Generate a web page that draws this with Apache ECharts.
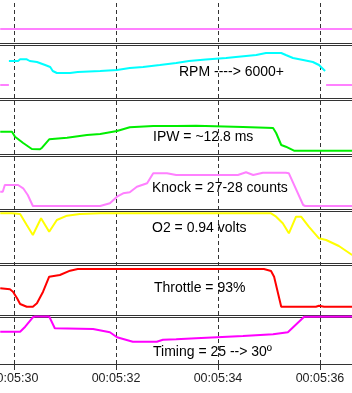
<!DOCTYPE html>
<html>
<head>
<meta charset="utf-8">
<script src="https://cdn.jsdelivr.net/npm/echarts@6/dist/echarts.min.js"></script>
<style>
  html, body { margin: 0; padding: 0; background: #fff; }
  #chart { width: 352px; height: 393px; }
</style>
</head>
<body>
<div id="chart"></div>
<script>
// time is seconds after 00:05:00, values are trace level inside each strip
const timeMin = 29.7255;
const timeMax = 36.6275;
const gridTimes = [30, 32, 34, 36];

const topLine = [[29.73, 14], [36.63, 14]];

const rpmData = [
  [29.90, 37], [30.08, 37], [30.12, 38.7], [30.25, 38.7], [30.31, 37], [30.45, 36],
  [30.61, 33], [30.71, 31], [30.76, 27], [30.84, 25], [31.10, 25], [31.25, 26],
  [31.69, 27], [32.02, 28], [32.27, 30], [32.53, 31], [32.86, 33], [33.18, 35],
  [33.43, 37], [33.76, 38.5], [34.16, 40], [34.35, 41], [34.75, 43], [34.94, 45],
  [35.24, 45], [35.33, 43], [35.47, 40], [35.67, 38], [35.86, 36], [35.98, 33], [36.10, 27]
];
const rpmOver = [[29.73, 13], [29.90, 13], [33.00, '-'], [36.12, 13], [36.63, 13]];

const ipwData = [
  [29.73, 22.3], [29.96, 22.3], [30.02, 17.3], [30.18, 11], [30.35, 5], [30.37, 4.7],
  [30.51, 4.7], [30.55, 6.3], [30.69, 14.7], [31.04, 16.3], [31.43, 19], [31.69, 20],
  [32.02, 23], [32.27, 26.7], [32.73, 28], [33.18, 28], [33.57, 28.3], [34.49, 27],
  [34.94, 26.3], [35.08, 26], [35.14, 21], [35.24, 9], [35.33, 7.3], [35.49, 3.3], [36.63, 3.3]
];

const knockData = [
  [29.73, 17.3], [29.78, 17.3], [29.82, 24], [30.08, 24], [30.18, 20.7], [30.27, 14],
  [30.37, 3], [31.69, 3], [31.88, 5.7], [32.02, 12.3], [32.14, 15.7], [32.27, 16.7],
  [32.41, 22.3], [32.61, 25.7], [32.73, 35.7], [33.00, 35.7], [33.18, 34], [34.39, 34],
  [34.55, 36.7], [34.69, 34], [34.88, 36.3], [35.33, 36.3], [35.39, 35.7], [35.67, 4],
  [35.71, 3], [36.63, 3]
];

const o2Data = [
  [29.73, 49.7], [29.96, 49.7], [30.12, 49], [30.25, 38], [30.37, 28], [30.53, 44.7],
  [30.69, 31.3], [30.84, 43], [31.04, 47.3], [31.29, 49], [31.69, 49.7], [35.04, 49.7],
  [35.14, 46.3], [35.27, 39.7], [35.39, 29.7], [35.53, 46.3], [35.63, 46.3], [35.78, 36.3],
  [35.98, 24.7], [36.12, 23], [36.37, 17], [36.63, 8]
];

const throttleData = [
  [29.73, 26.7], [29.92, 25.7], [29.98, 23.3], [30.06, 16.7], [30.12, 11], [30.25, 8.3],
  [30.37, 8.3], [30.45, 11.7], [30.57, 23.3], [30.69, 38.3], [30.90, 40], [31.10, 44.3],
  [31.25, 46], [34.90, 46], [35.04, 44], [35.10, 38.3], [35.24, 8.3], [35.92, 8.3],
  [35.98, 9.3], [36.08, 8.3], [36.63, 8.3]
];

const timingData = [
  [29.73, 32.3], [30.12, 32.3], [30.22, 37.3], [30.37, 46.7], [30.41, 47.5], [30.69, 47.5],
  [30.80, 35.7], [31.55, 35], [31.88, 31.7], [32.02, 26.7], [32.33, 22.3], [32.80, 22.3],
  [32.92, 24.3], [33.18, 24.7], [33.57, 25.7], [34.49, 28], [35.08, 29.7], [35.37, 31.7],
  [35.69, 47.3], [36.63, 47.5]
];

const stripLabels = [
  'RPM ----> 6000+',
  'IPW = ~12.8 ms',
  'Knock = 27-28 counts',
  'O2 = 0.94 volts',
  'Throttle = 93%',
  'Timing = 25 --> 30º'
];

// strip layout (pixel rows of the separator lines)
const strips = [
  { top: 0, bottom: 43 },
  { top: 45, bottom: 98 },
  { top: 100, bottom: 154 },
  { top: 156, bottom: 209 },
  { top: 211, bottom: 263 },
  { top: 265, bottom: 315 },
  { top: 317, bottom: 364 }
];
const labelPos = [[179, 72], [153, 137], [152, 188], [152, 228], [154, 288], [153, 352]];

const traces = [
  { strip: 0, data: topLine, color: '#ff80ff' },
  { strip: 1, data: rpmOver, color: '#ff80ff' },
  { strip: 1, data: rpmData, color: '#00ffff' },
  { strip: 2, data: ipwData, color: '#00ee00' },
  { strip: 3, data: knockData, color: '#ff80ff' },
  { strip: 4, data: o2Data, color: '#ffff00' },
  { strip: 5, data: throttleData, color: '#ff0000' },
  { strip: 6, data: timingData, color: '#ff00ff' }
];

const chart = echarts.init(document.getElementById('chart'));

const grids = [];
const xAxes = [];
const yAxes = [];
strips.forEach((s, i) => {
  grids.push({ left: 0, right: 0, top: s.top, height: s.bottom - s.top, outerBoundsMode: 'none' });
  xAxes.push({ gridIndex: i, type: 'value', min: timeMin, max: timeMax, show: false });
  yAxes.push({ gridIndex: i, type: 'value', min: 0, max: s.bottom - s.top, show: false });
});

// full height grid carrying the time axis and the dashed time lines
const overlay = strips.length;
grids.push({ left: 0, right: 0, top: 0, height: 364, outerBoundsMode: 'none', containLabel: false });
xAxes.push({
  gridIndex: overlay, type: 'value', min: timeMin, max: timeMax,
  axisLine: { show: false },
  splitLine: { show: false },
  axisTick: { show: true, customValues: gridTimes, length: 6, lineStyle: { color: '#333' } },
  axisLabel: {
    customValues: gridTimes,
    margin: 8,
    fontSize: 12.5,
    color: '#222',
    fontFamily: 'Liberation Sans, Arial, sans-serif',
    formatter: v => '00:05:' + String(Math.round(v)).padStart(2, '0')
  }
});
yAxes.push({ gridIndex: overlay, type: 'value', min: 0, max: 1, show: false });

const series = [{
  type: 'line',
  xAxisIndex: overlay,
  yAxisIndex: overlay,
  data: [],
  z: 1,
  markLine: {
    silent: true,
    symbol: 'none',
    animation: false,
    label: { show: false },
    lineStyle: { type: [4, 3], color: '#333', width: 1 },
    data: gridTimes.map(t => ({ xAxis: t }))
  }
}];

traces.forEach(tr => {
  series.push({
    type: 'line',
    xAxisIndex: tr.strip,
    yAxisIndex: tr.strip,
    data: tr.data,
    showSymbol: false,
    symbol: 'none',
    clip: false,
    z: 5,
    lineStyle: { color: tr.color, width: 2 },
    itemStyle: { color: tr.color }
  });
});

const graphic = [];
strips.forEach((s, i) => {
  const rows = i === 0 ? [s.bottom] : [s.top, s.bottom];
  rows.forEach(r => {
    graphic.push({
      type: 'line',
      z: 3,
      shape: { x1: 0, y1: r + 0.5, x2: 352, y2: r + 0.5 },
      style: { stroke: '#333', lineWidth: 1 }
    });
  });
});
stripLabels.forEach((txt, i) => {
  graphic.push({
    type: 'text',
    z: 10,
    x: labelPos[i][0],
    y: labelPos[i][1],
    style: {
      text: txt,
      fill: '#000',
      font: '14px "Liberation Sans", Arial, sans-serif',
      align: 'left',
      verticalAlign: 'middle'
    }
  });
});

chart.setOption({
  animation: false,
  backgroundColor: '#fff',
  grid: grids,
  xAxis: xAxes,
  yAxis: yAxes,
  series: series,
  graphic: graphic
});
</script>
</body>
</html>
